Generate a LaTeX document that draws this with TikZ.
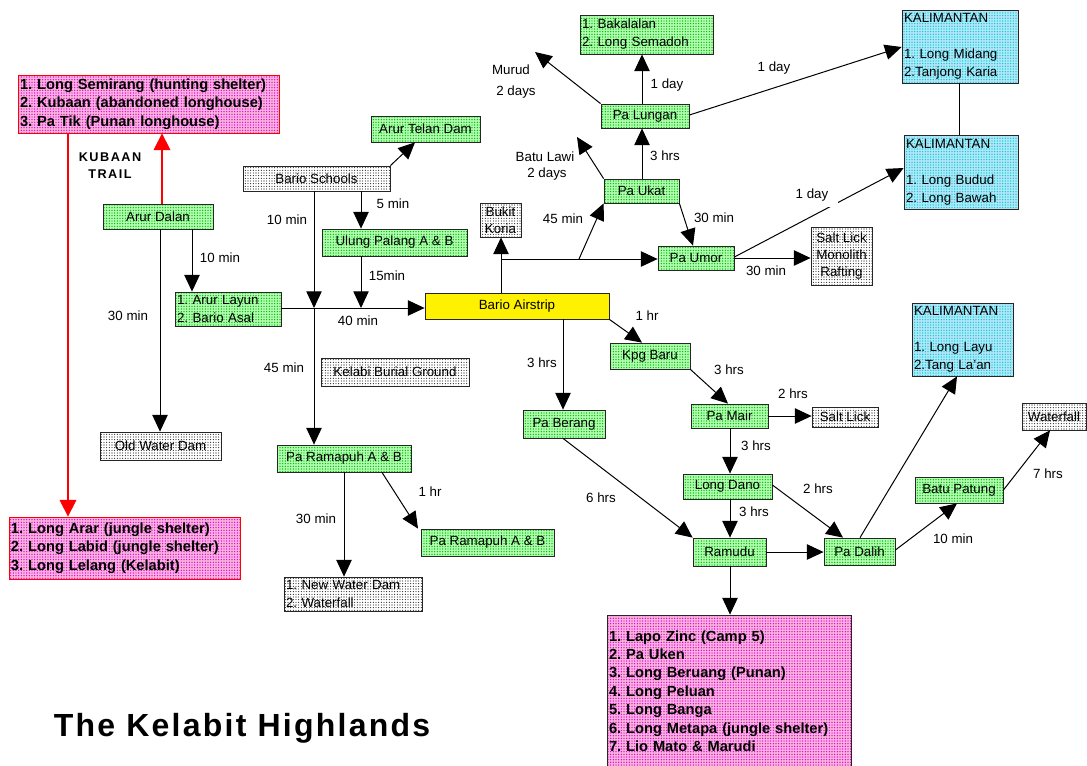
\documentclass[tikz,border=0pt]{standalone}
\usepackage{fontspec}
\setmainfont{Liberation Sans}
\usetikzlibrary{arrows.meta,patterns.meta,calc}

\newcommand\bx[7]{%
  \pgfmathsetmacro\bxw{(#5-#3)*0.75}%
  \pgfmathsetmacro\bxh{(#6-#4)*0.75}%
  \node[#2, minimum width=\bxw pt, minimum height=\bxh pt, align=center] (#1) at ({(#3+#5)/2},{(#4+#6)/2}) {#7};}
\newcommand\bxl[7]{%
  \pgfmathsetmacro\bxw{(#5-#3)*0.75}%
  \pgfmathsetmacro\bxh{(#6-#4)*0.75}%
  \pgfmathsetmacro\bxtw{(#5-#3)*0.75-3}%
  \node[#2, minimum width=\bxw pt, minimum height=\bxh pt, text width=\bxtw pt, align=left, inner xsep=1.5pt] (#1) at ({(#3+#5)/2},{(#4+#6)/2}) {#7};}

\tikzset{
  every node/.style={font=\fontsize{10}{13.5}\selectfont, inner sep=1pt},
  boxbase/.style={draw=black!85, line width=0.6pt},
  gbox/.style={boxbase, preaction={fill=green!30}, pattern={Dots[distance=2pt,radius=0.55pt]}, pattern color=green!70!black},
  wbox/.style={boxbase, preaction={fill=white}, pattern={Dots[distance=2pt,radius=0.4pt]}, pattern color=black},
  cbox/.style={boxbase, preaction={fill=cyan!30}, pattern={Dots[distance=2pt,radius=0.55pt]}, pattern color=cyan!80!black},
  mbox/.style={boxbase, preaction={fill=magenta!30}, pattern={Dots[distance=2pt,radius=0.55pt]}, pattern color=magenta!85!black, font=\fontsize{11}{13.8}\selectfont\bfseries},
  rbox/.style={mbox, draw=red},
  ybox/.style={boxbase, fill=yellow},
  tight/.style={font=\fontsize{10}{12.75}\selectfont},
  conn/.style={draw=black, line width=0.75pt, -{Triangle[length=12.5pt,width=11.5pt]}},
  plain/.style={draw=black, line width=0.75pt},
  redconn/.style={draw=red, line width=1pt, -{Triangle[length=12.5pt,width=12.5pt]}},
  lbl/.style={font=\fontsize{10}{12}\selectfont, inner sep=1pt},
}

\begin{document}
\frenchspacing
\begin{tikzpicture}[x=0.75pt,y=-0.75pt]
\useasboundingbox (0,0) rectangle (1087,765);

% ---------- boxes ----------
\bxl{RedTop}{rbox}{18}{75}{279}{133}{1. Long Semirang (hunting shelter)\\2. Kubaan (abandoned longhouse)\\3. Pa Tik (Punan longhouse)}
\bxl{RedBot}{rbox}{9}{517}{240}{579}{1. Long Arar (jungle shelter)\\2. Long Labid (jungle shelter)\\3. Long Lelang (Kelabit)}
\bx{ArurDalan}{gbox}{103}{204}{213}{229}{Arur Dalan}
\bxl{ArurLayun}{gbox}{175}{292}{281}{326}{1. Arur Layun\\2. Bario Asal}
\bx{OldWaterDam}{wbox}{100}{432}{221}{460}{Old Water Dam}
\bx{BarioSchools}{wbox}{243}{166}{390}{191}{Bario Schools}
\bx{ArurTelan}{gbox}{371}{116}{480}{142}{Arur Telan Dam}
\bx{Ulung}{gbox}{322}{229}{467}{256}{Ulung Palang A \& B}
\bx{Airstrip}{ybox}{425}{293}{609}{319}{Bario Airstrip}
\bx{Kelabi}{wbox}{321}{358}{469}{386}{Kelabi Burial Ground}
\bx{PaRamapuh}{gbox}{277}{445}{411}{472}{Pa Ramapuh A \& B}
\bx{PaRamapuhB}{gbox}{421}{529}{554}{556}{Pa Ramapuh A \& B}
\bxl{NewWaterDam}{wbox}{284}{577}{422}{611}{1. New Water Dam\\2. Waterfall}
\bx{Bukit}{wbox,tight}{480}{203}{521}{237}{Bukit\\Koria}
\bx{PaUkat}{gbox}{604}{179}{679}{203}{Pa Ukat}
\bx{PaUmor}{gbox}{658}{246}{734}{270}{Pa Umor}
\bx{SaltLickA}{wbox,tight}{811}{227}{872}{285}{Salt Lick\\Monolith\\Rafting}
\bx{PaLungan}{gbox}{601}{104}{689}{128}{Pa Lungan}
\bxl{Bakalalan}{gbox}{580}{15}{713}{54}{1. Bakalalan\\2. Long Semadoh}
\bxl{KalA}{cbox}{902}{10}{1018}{83}{KALIMANTAN\\[13.5pt]1. Long Midang\\2.Tanjong Karia}
\bxl{KalB}{cbox}{904}{135}{1018}{209}{KALIMANTAN\\[13.5pt]1. Long Budud\\2. Long Bawah}
\bxl{KalC}{cbox}{912}{303}{1013}{376}{KALIMANTAN\\[13.5pt]1. Long Layu\\2.Tang La'an}
\bx{PaBerang}{gbox}{523}{410}{605}{438}{Pa Berang}
\bx{KpgBaru}{gbox}{610}{343}{690}{369}{Kpg Baru}
\bx{PaMair}{gbox}{691}{404}{768}{428}{Pa Mair}
\bx{SaltLickB}{wbox}{812}{407}{878}{427}{Salt Lick}
\bx{LongDano}{gbox}{683}{474}{772}{499}{Long Dano}
\bx{Ramudu}{gbox}{693}{538}{766}{566}{Ramudu}
\bx{PaDalih}{gbox}{824}{538}{895}{565}{Pa Dalih}
\bx{BatuPatung}{gbox}{915}{477}{1003}{503}{Batu Patung}
\bx{Waterfall}{wbox}{1022}{403}{1086}{430}{Waterfall}
\bxl{BigBox}{mbox}{607}{615}{851}{767}{1. Lapo Zinc (Camp 5)\\2. Pa Uken\\3. Long Beruang (Punan)\\4. Long Peluan\\5. Long Banga\\6. Long Metapa (jungle shelter)\\7. Lio Mato \& Marudi}

% ---------- junctions / free ends ----------
\coordinate (j1) at (314,308);
\coordinate (j2) at (361,308);
\coordinate (j3) at (501,259);
\coordinate (j4) at (579,259);
\coordinate (murud) at (535,52);
\coordinate (batu) at (577,137);

% ---------- connectors ----------
\draw[redconn] (ArurDalan.north -| 162,0) -- (RedTop.south -| 162,0);
\draw[redconn] (RedTop.south -| 68,0) -- (RedBot.north -| 68,0);
\draw[conn] (ArurDalan.south -| 160,0) -- (OldWaterDam.north -| 160,0);
\draw[conn] (ArurDalan.south -| 192,0) -- (ArurLayun.north -| 192,0);
\draw[conn] (ArurLayun.east |- 0,308) -- (Airstrip.west |- 0,308);
\draw[conn] (BarioSchools.south -| j1) -- (j1);
\draw[conn] (j1) -- (PaRamapuh.north -| j1);
\draw[conn] (BarioSchools.south -| 361,0) -- (Ulung.north -| 361,0);
\draw[conn] (Ulung.south -| j2) -- (j2);
\draw[conn] (BarioSchools.north east) -- (ArurTelan.south -| 415,0);
\draw[conn] (Airstrip.north -| 501,0) -- (Bukit.south -| 501,0);
\draw[conn] (j3) -- (PaUmor.west |- j3);
\draw[conn] (j4) -- (PaUkat.south west);
\draw[conn] (PaUkat.south east) -- (PaUmor.north -| 693,0);
\draw[conn] (PaUmor.east) -- (SaltLickA.west |- PaUmor.east);
\draw[conn] (PaUmor.east |- 0,257) -- (KalB.west |- 0,168);
\draw[conn] (PaUkat.north -| 642,0) -- (PaLungan.south -| 642,0);
\draw[conn] (PaLungan.north -| 642,0) -- (Bakalalan.south -| 642,0);
\draw[conn] (PaLungan.north west) -- (murud);
\draw[conn] (PaUkat.north west) -- (batu);
\draw[conn] (PaLungan.east |- 0,115) -- (KalA.west |- 0,47);
\draw[plain] (KalA.south -| 959,0) -- (KalB.north -| 959,0);
\draw[conn] (Airstrip.south -| 563,0) -- (PaBerang.north -| 563,0);
\draw[conn] (Airstrip.south east) -- (KpgBaru.north -| 642,0);
\draw[conn] (KpgBaru.south east) -- (PaMair.north -| 728,0);
\draw[conn] (PaMair.east) -- (SaltLickB.west |- PaMair.east);
\draw[conn] (PaMair.south -| 730,0) -- (LongDano.north -| 730,0);
\draw[conn] (LongDano.south -| 730,0) -- (Ramudu.north -| 730,0);
\draw[conn] (LongDano.east |- 0,485) -- (PaDalih.north -| 843,0);
\draw[conn] (PaBerang.south -| 563,0) -- (Ramudu.north west);
\draw[conn] (Ramudu.east) -- (PaDalih.west |- Ramudu.east);
\draw[conn] (Ramudu.south -| 730,0) -- (BigBox.north -| 730,0);
\draw[conn] (PaDalih.north -| 860,0) -- (KalC.south -| 957,0);
\draw[conn] (PaDalih.east |- 0,550) -- (BatuPatung.south -| 957,0);
\draw[conn] (BatuPatung.east) -- (Waterfall.south -| 1050,0);
\draw[conn] (PaRamapuh.south -| 344,0) -- (NewWaterDam.north -| 344,0);
\draw[conn] (PaRamapuh.south -| 382,0) -- (PaRamapuhB.north -| 418,0);

% ---------- labels ----------
\node[font=\fontsize{9.5}{12.5}\selectfont\bfseries\addfontfeatures{LetterSpace=12}, align=center] (kubaan) at (110,165.5) {KUBAAN\\TRAIL};
\node[lbl] (t1) at (128,316) {30 min};
\node[lbl] (t2) at (220,258) {10 min};
\node[lbl] (t3) at (287,220) {10 min};
\node[lbl] (t4) at (393,204) {5 min};
\node[lbl] (t5) at (387,276) {15min};
\node[lbl] (t6) at (358,321) {40 min};
\node[lbl] (t7) at (284,368) {45 min};
\node[lbl] (t8) at (316,519) {30 min};
\node[lbl] (t9) at (430,492) {1 hr};
\node[lbl] (t10) at (511,70) {Murud};
\node[lbl] (t11) at (516,92) {2 days};
\node[lbl] (t12) at (545,157) {Batu Lawi};
\node[lbl] (t13) at (547,174) {2 days};
\node[lbl] (t14) at (667,85) {1 day};
\node[lbl] (t15) at (665,156) {3 hrs};
\node[lbl] (t16) at (774,68) {1 day};
\node[lbl] (t17) at (563,219) {45 min};
\node[lbl] (t18) at (714,218) {30 min};
\node[lbl, fill=white, inner xsep=7pt, inner ysep=4pt] (t19) at (812,195) {1 day};
\node[lbl] (t20) at (766,271) {30 min};
\node[lbl] (t21) at (647,316) {1 hr};
\node[lbl] (t22) at (542,363) {3 hrs};
\node[lbl] (t23) at (729,370) {3 hrs};
\node[lbl] (t24) at (793,394) {2 hrs};
\node[lbl] (t25) at (756,446) {3 hrs};
\node[lbl] (t26) at (818,489) {2 hrs};
\node[lbl] (t27) at (754,512) {3 hrs};
\node[lbl] (t28) at (601,498) {6 hrs};
\node[lbl] (t29) at (953,539) {10 min};
\node[lbl] (t30) at (1048,474) {7 hrs};
\node[font=\fontsize{24}{28}\selectfont\bfseries\addfontfeatures{LetterSpace=7}] (title) at (242,728) {The Kelabit Highlands};
\end{tikzpicture}
\end{document}
